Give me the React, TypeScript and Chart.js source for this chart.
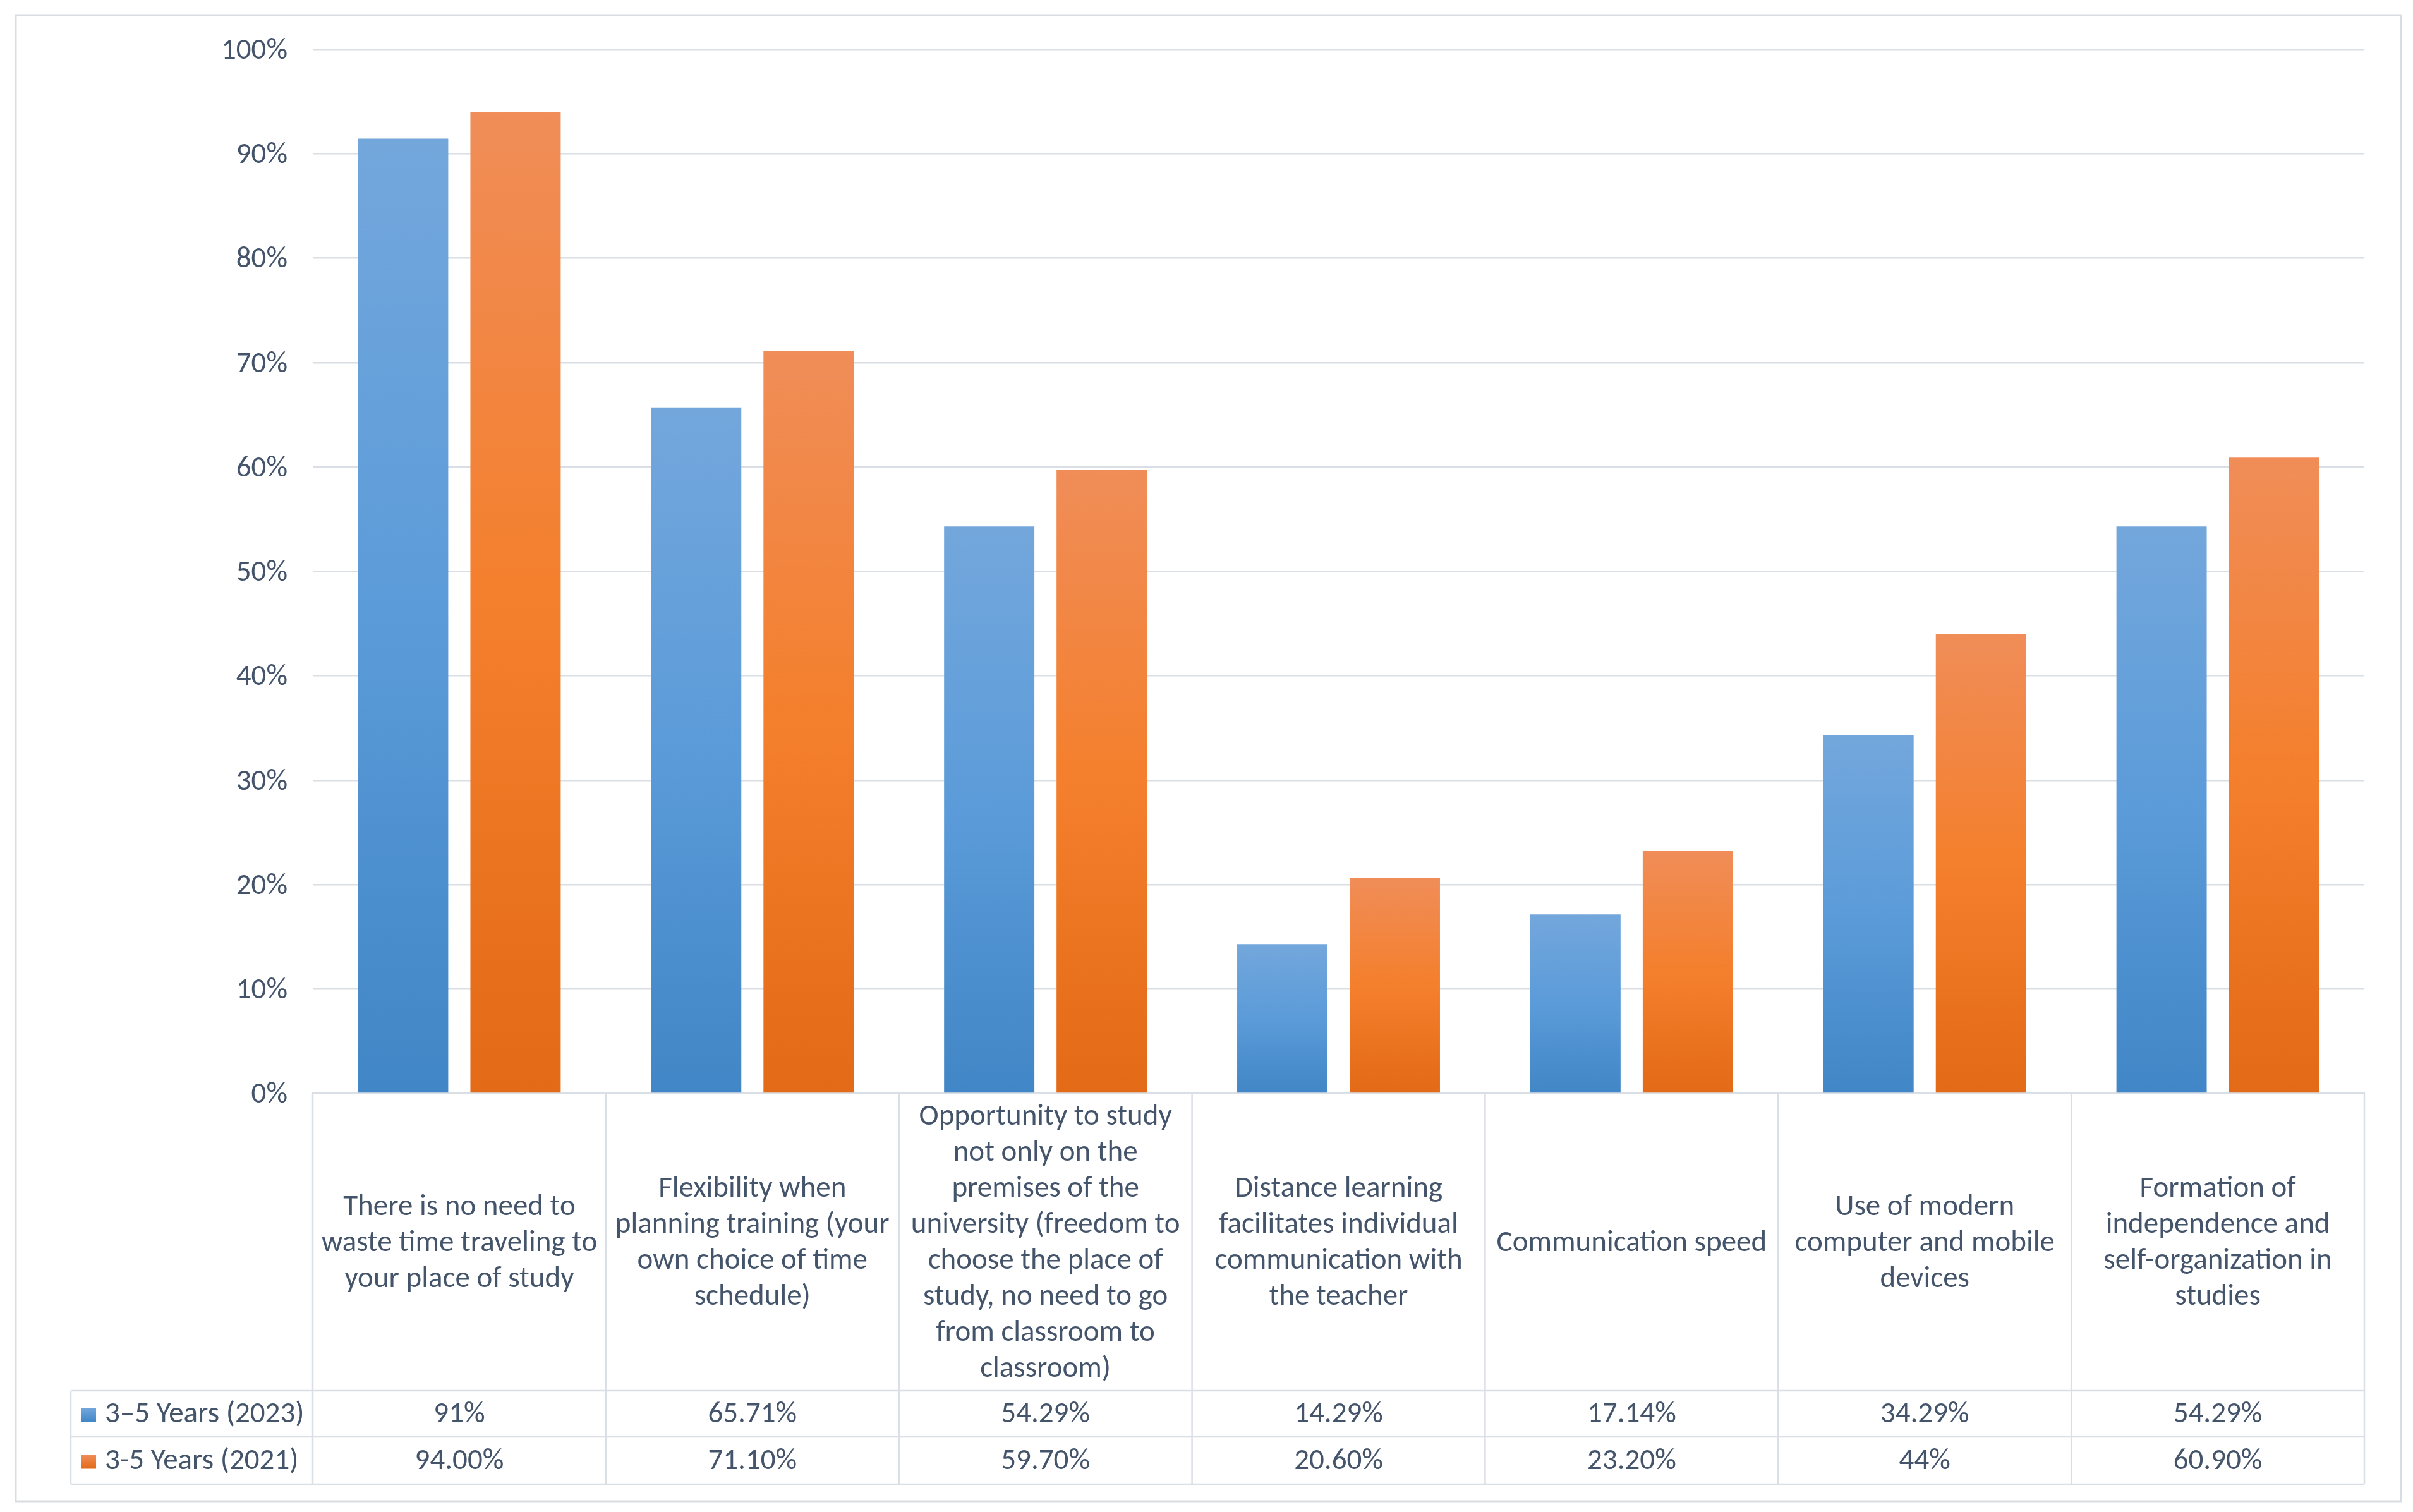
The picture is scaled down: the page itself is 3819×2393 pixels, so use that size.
import React, { useEffect, useRef } from 'react';
import { Chart, registerables } from 'chart.js';

Chart.register(...registerables);

const categories: string[][] = [
  ['There is no need to', 'waste time traveling to', 'your place of study'],
  ['Flexibility when', 'planning training (your', 'own choice of time', 'schedule)'],
  ['Opportunity to study', 'not only on the', 'premises of the', 'university (freedom to', 'choose the place of', 'study, no need to go', 'from classroom to', 'classroom)'],
  ['Distance learning', 'facilitates individual', 'communication with', 'the teacher'],
  ['Communication speed'],
  ['Use of modern', 'computer and mobile', 'devices'],
  ['Formation of', 'independence and', 'self-organization in', 'studies'],
];
const seriesNames = ['3–5 Years (2023)', '3-5 Years (2021)'];
const values2023 = [91.43, 65.71, 54.29, 14.29, 17.14, 34.29, 54.29];
const values2021 = [94.0, 71.1, 59.7, 20.6, 23.2, 44, 60.9];
const labels2023 = ['91%', '65.71%', '54.29%', '14.29%', '17.14%', '34.29%', '54.29%'];
const labels2021 = ['94.00%', '71.10%', '59.70%', '20.60%', '23.20%', '44%', '60.90%'];
const yMax = 100;
const yStep = 10;

const W = 3819;
const H = 2393;
const FONT = 'Carlito, Lato, "Liberation Sans", sans-serif';
const FONT_SIZE = 47;
const TEXT = '#44546A';
const GRID = '#DADFE6';
const BLUE = ['#73A7DC', '#5B9BD9', '#4186C6'];
const ORANGE = ['#F08D58', '#F47F2C', '#E36A17'];

const barGradient = (stops: string[]) => (ctx: any) => {
  const chart = ctx.chart;
  const ys = chart.scales && chart.scales.y;
  if (!ys || ctx.raw == null || !chart.chartArea) return stops[1];
  const top = ys.getPixelForValue(ctx.raw);
  const bot = ys.getPixelForValue(0);
  if (!isFinite(top) || !isFinite(bot) || Math.abs(bot - top) < 1) return stops[1];
  const g = chart.ctx.createLinearGradient(0, top, 0, bot);
  g.addColorStop(0, stops[0]);
  g.addColorStop(0.5, stops[1]);
  g.addColorStop(1, stops[2]);
  return g;
};

const ROW1_TOP = 2201;
const ROW2_TOP = 2274;
const TABLE_BOTTOM = 2349;
const LEGEND_LEFT = 112;

const tablePlugin = {
  id: 'tablePlugin',
  beforeDraw(chart: any) {
    const c = chart.ctx;
    c.save();
    c.fillStyle = '#FFFFFF';
    c.fillRect(0, 0, chart.width, chart.height);
    c.strokeStyle = '#D9DDE2';
    c.lineWidth = 3;
    c.strokeRect(25, 24, 3775, 2352);
    c.restore();
  },
  afterDraw(chart: any) {
    const c = chart.ctx;
    const area = chart.chartArea;
    const xs = chart.scales.x;
    const n = categories.length;
    const cw = (area.right - area.left) / n;
    const base = area.bottom;
    c.save();
    c.strokeStyle = GRID;
    c.lineWidth = 2.5;
    c.beginPath();
    for (let k = 0; k <= n; k++) {
      const x = area.left + k * cw;
      c.moveTo(x, base);
      c.lineTo(x, TABLE_BOTTOM);
    }
    c.moveTo(LEGEND_LEFT, ROW1_TOP);
    c.lineTo(LEGEND_LEFT, TABLE_BOTTOM);
    for (const y of [ROW1_TOP, ROW2_TOP, TABLE_BOTTOM]) {
      c.moveTo(LEGEND_LEFT, y);
      c.lineTo(area.right, y);
    }
    c.stroke();

    c.font = `${FONT_SIZE}px ${FONT}`;
    c.fillStyle = TEXT;
    c.textBaseline = 'middle';
    const rows = [
      { top: ROW1_TOP, bottom: ROW2_TOP, labels: labels2023, name: seriesNames[0], stops: BLUE },
      { top: ROW2_TOP, bottom: TABLE_BOTTOM, labels: labels2021, name: seriesNames[1], stops: ORANGE },
    ];
    for (const r of rows) {
      const my = (r.top + r.bottom) / 2 + 2;
      c.textAlign = 'center';
      c.fillStyle = TEXT;
      for (let i = 0; i < n; i++) {
        const x = xs.getPixelForValue(i);
        c.fillText(r.labels[i], x, my);
      }
      const g = c.createLinearGradient(0, my - 11, 0, my + 11);
      g.addColorStop(0, r.stops[0]);
      g.addColorStop(1, r.stops[2]);
      c.fillStyle = g;
      c.fillRect(128, my - 11, 24, 22);
      c.fillStyle = TEXT;
      c.textAlign = 'left';
      c.fillText(r.name, 166, my);
    }
    c.restore();
  },
};

export default function App() {
  const ref = useRef<HTMLCanvasElement | null>(null);
  useEffect(() => {
    document.body.style.margin = '0';
    document.body.style.overflow = 'hidden';
    const canvas = ref.current;
    if (!canvas) return;
    const chart = new Chart(canvas, {
      type: 'bar',
      data: {
        labels: categories,
        datasets: [
          {
            label: seriesNames[0],
            data: values2023,
            backgroundColor: barGradient(BLUE),
            borderWidth: 0,
            categoryPercentage: 0.7675,
            barPercentage: 0.803,
          },
          {
            label: seriesNames[1],
            data: values2021,
            backgroundColor: barGradient(ORANGE),
            borderWidth: 0,
            categoryPercentage: 0.7675,
            barPercentage: 0.803,
          },
        ],
      },
      options: {
        animation: false,
        responsive: false,
        devicePixelRatio: 1,
        layout: { padding: { left: 24, top: 78, right: 77, bottom: H - ROW1_TOP } },
        plugins: { legend: { display: false }, tooltip: { enabled: false }, title: { display: false } },
        scales: {
          x: {
            grid: { display: false, drawTicks: false },
            border: { display: true, color: GRID, width: 2.5 },
            ticks: {
              autoSkip: false,
              maxRotation: 0,
              minRotation: 0,
              crossAlign: 'center',
              padding: 38,
              color: TEXT,
              font: { family: FONT, size: FONT_SIZE, lineHeight: '57px' },
            },
            afterFit: (s: any) => {
              s.height = ROW1_TOP - 1730.5;
              s.paddingLeft = 0;
              s.paddingRight = 0;
            },
          },
          y: {
            min: 0,
            max: yMax,
            grid: { color: GRID, lineWidth: 2.5, drawTicks: false },
            border: { display: false },
            ticks: {
              stepSize: yStep,
              padding: 40,
              labelOffset: 3,
              color: TEXT,
              font: { family: FONT, size: FONT_SIZE },
              callback: (v: any) => `${v}%`,
            },
            afterFit: (s: any) => {
              s.width = 495 - 24;
              s.paddingTop = 0;
              s.paddingBottom = 0;
            },
          },
        },
      },
      plugins: [tablePlugin],
    } as any);
    return () => chart.destroy();
  }, []);
  return (
    <div style={{ width: W, height: H, background: '#fff' }}>
      <canvas ref={ref} width={W} height={H} style={{ width: W, height: H, display: 'block' }} />
    </div>
  );
}
